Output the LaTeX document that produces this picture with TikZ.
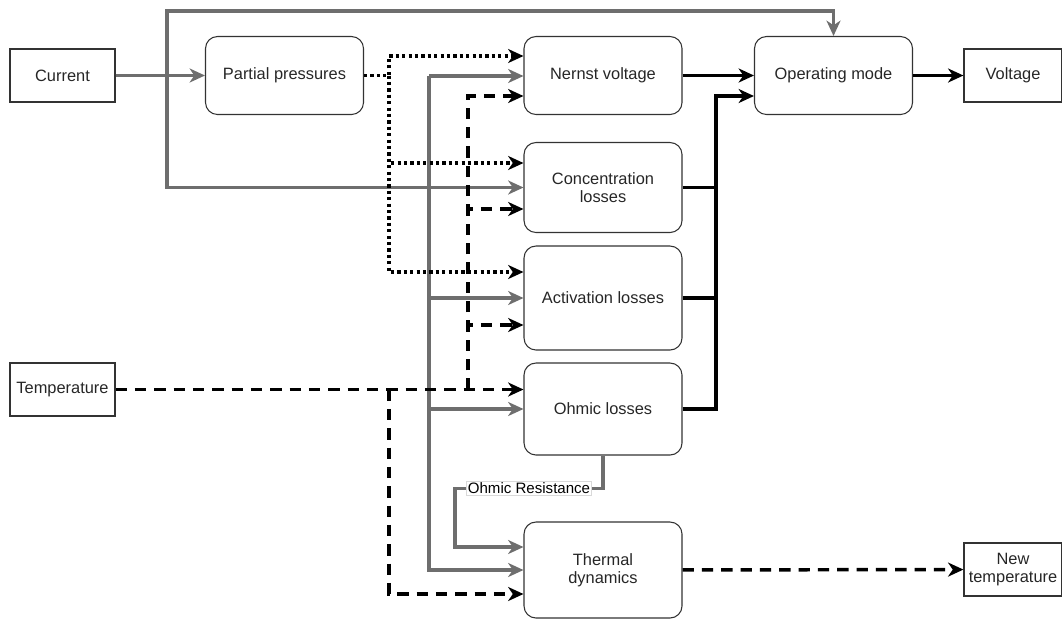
\documentclass[tikz,border=0pt]{standalone}
\usepackage{fontspec}
\setmainfont{Liberation Sans}
\usetikzlibrary{arrows.meta}
\definecolor{curline}{HTML}{6E6E6E}
\definecolor{boxline}{HTML}{333333}
\definecolor{boxtext}{HTML}{262626}

\begin{document}
\begin{tikzpicture}[x=0.75pt,y=-0.75pt,
  font=\fontsize{12.3}{13.8}\selectfont,
  term/.style={draw=boxline, line width=0.9pt, text=boxtext, inner sep=0pt,
    minimum width=78.75pt, minimum height=39.75pt, align=center},
  block/.style={draw=boxline, line width=0.8pt, text=boxtext, rounded corners=9pt,
    inner sep=0pt, minimum width=118.5pt, align=center},
  tip/.style={-{Stealth[length=11.5pt,width=10.5pt,inset=3.5pt]}},
  curr/.style={draw=curline, line width=2.6pt, tip},
  wire/.style={draw=black, line width=2.6pt},
  loss/.style={wire, tip},
  press/.style={wire, tip, dash pattern=on 2.4pt off 2.4pt},
  heat/.style={wire, tip, dash pattern=on 8.5pt off 6pt},
  res/.style={fill=white, draw=black!15, line width=0.5pt, inner sep=1pt,
    font=\fontsize{11.3}{13}\selectfont, text=black}]
\useasboundingbox (0,0) rectangle (1062,619);

\node[term] (cur) at (62.5,75.5) {Current};
\node[term] (temp) at (62.5,389.5) {Temperature};
\node[block, minimum height=58.5pt] (pp) at (284.5,75.5) {Partial pressures};
\node[block, minimum height=58.5pt] (nv) at (603,75.5) {Nernst voltage};
\node[block, minimum height=67.5pt] (cl) at (603,187.5) {Concentration\\losses};
\node[block, minimum height=78pt] (al) at (603,298) {Activation losses};
\node[block, minimum height=69pt] (ol) at (603,409) {Ohmic losses};
\node[block, minimum height=72pt] (td) at (603,570) {Thermal\\dynamics};
\node[block, minimum height=58.5pt] (om) at (833.5,75.5) {Operating mode};
\node[term, minimum width=73.5pt] (volt) at (1013,75.5) {Voltage};
\node[term, minimum width=73.5pt] (nt) at (1013,569.5) {New\\temperature};

\coordinate (cj) at (167,75.5);
\coordinate (dj) at (389,75.5);
\coordinate (gj) at (429,76);
\coordinate (tj) at (468,389.5);
\coordinate (tk) at (389,389.5);
\coordinate (bj) at (716,409);

\draw[curr] (cur) -- (pp);
\draw[curr] (cur) -- (cj) -- ++(0,-64.5) -| (om);
\draw[curr] (cur) -- (cj) |- (cl);
\draw[curr] (gj) -- (gj -| nv.west);
\draw[curr] (gj) |- (al);
\draw[curr] (gj) |- (ol);
\draw[curr] (gj) |- (td);

\draw[press] (pp) -- (dj) |- (nv.west |- 0,56);
\draw[press] (dj) |- (cl.west |- 0,163);
\draw[press] (dj) |- (al.west |- 0,272);

\draw[heat] (temp) -- (temp -| ol.west);
\draw[heat] (tj) |- (nv.west |- 0,96);
\draw[heat] (tj) |- (cl.west |- 0,209);
\draw[heat] (tj) |- (al.west |- 0,325);
\draw[heat] (tk) |- (td.west |- 0,594);

\draw[loss] (nv) -- (om);
\draw[loss] (om) -- (volt);
\draw[wire] (cl) -| (bj);
\draw[wire] (al) -- (al -| bj);
\draw[loss] (ol) -- (bj) |- (om.west |- 0,96);

\draw[curr] (ol.south) -- ++(0,33) -- node[res] {Ohmic Resistance} ++(-148,0) |- (td.west |- 0,547);
\draw[heat] (td) -- (nt);
\end{tikzpicture}
\end{document}
